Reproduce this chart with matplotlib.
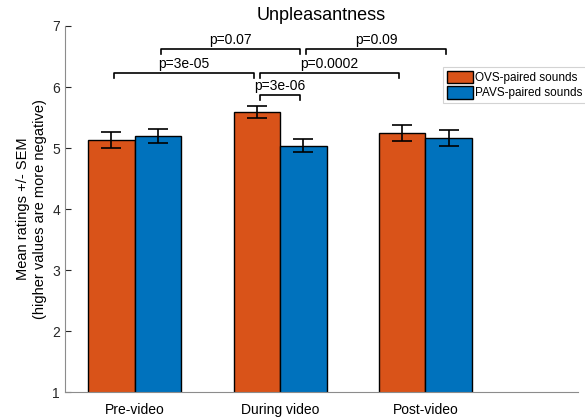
import numpy as np
import matplotlib
matplotlib.use("Agg")
import matplotlib.pyplot as plt

plt.rcParams['font.family'] = ['Liberation Sans', 'DejaVu Sans']

groups = ["Pre-video", "During video", "Post-video"]
ovs = [5.13, 5.59, 5.25]
ovs_sem = [0.13, 0.10, 0.13]
pavs = [5.20, 5.04, 5.17]
pavs_sem = [0.12, 0.11, 0.13]
series_names = ["OVS-paired sounds", "PAVS-paired sounds"]

# comparisons: (group a, series a, group b, series b, level, label)
comparisons = [
    (0, 1, 1, 1, 6.62, "p=0.07"),
    (1, 1, 2, 1, 6.62, "p=0.09"),
    (0, 0, 1, 0, 6.23, "p=3e-05"),
    (1, 0, 2, 0, 6.23, "p=0.0002"),
    (1, 0, 1, 1, 5.87, "p=3e-06"),
]

orange = "#D95319"
blue = "#0072BD"
w = 0.32
off = 0.16

fig = plt.figure(figsize=(5.85, 4.19), dpi=100)
ax = fig.add_axes([0.111, 0.064, 0.877, 0.874])

x = np.arange(1, len(groups) + 1)
ax.bar(x - off, ovs, w, color=orange, edgecolor="black", linewidth=1.0,
       label=series_names[0], zorder=2)
ax.bar(x + off, pavs, w, color=blue, edgecolor="black", linewidth=1.0,
       label=series_names[1], zorder=2)
ax.errorbar(x - off, ovs, yerr=ovs_sem, fmt="none", ecolor="black", elinewidth=1.2,
            capsize=7, capthick=1.2, zorder=3)
ax.errorbar(x + off, pavs, yerr=pavs_sem, fmt="none", ecolor="black", elinewidth=1.2,
            capsize=7, capthick=1.2, zorder=3)

sides = [-off, off]
gap = 0.02
tip = 0.08
for ga, sa, gb, sb, lvl, lab in comparisons:
    xa = x[ga] + sides[sa] + gap
    xb = x[gb] + sides[sb] - gap
    ax.plot([xa, xa, xb, xb], [lvl - tip, lvl, lvl, lvl - tip],
            color="black", linewidth=1.2, clip_on=False)
    ax.text((xa + xb) / 2, lvl + 0.04, lab, ha="center", va="bottom", fontsize=10)

ax.set_xlim(0.52, 4.05)
ax.set_ylim(1, 7)
ax.set_yticks(range(1, 8))
ax.set_xticks(x)
ax.set_xticklabels(groups, fontsize=10)
ax.tick_params(axis="y", direction="in", length=4, labelsize=10, colors="#262626")
ax.tick_params(axis="x", length=0, labelsize=10, pad=8)
for s in ["top", "right"]:
    ax.spines[s].set_visible(False)
for s in ["left", "bottom"]:
    ax.spines[s].set_color("#8c8c8c")
    ax.spines[s].set_linewidth(0.8)

ax.set_ylabel("Mean ratings +/- SEM\n(higher values are more negative)", fontsize=10.5)
ax.set_title("Unpleasantness", fontsize=13, pad=4)

leg = ax.legend(loc="upper left", bbox_to_anchor=(443 / 585, 1 - 67 / 419),
                bbox_transform=fig.transFigure, fontsize=8.5, frameon=True,
                fancybox=False, edgecolor="#c8c8c8", handlelength=2.2,
                handleheight=1.3, handletextpad=0.2, borderpad=0.3,
                labelspacing=0.15, borderaxespad=0)
leg.get_frame().set_linewidth(0.8)

fig.savefig("out.png", dpi=100)
